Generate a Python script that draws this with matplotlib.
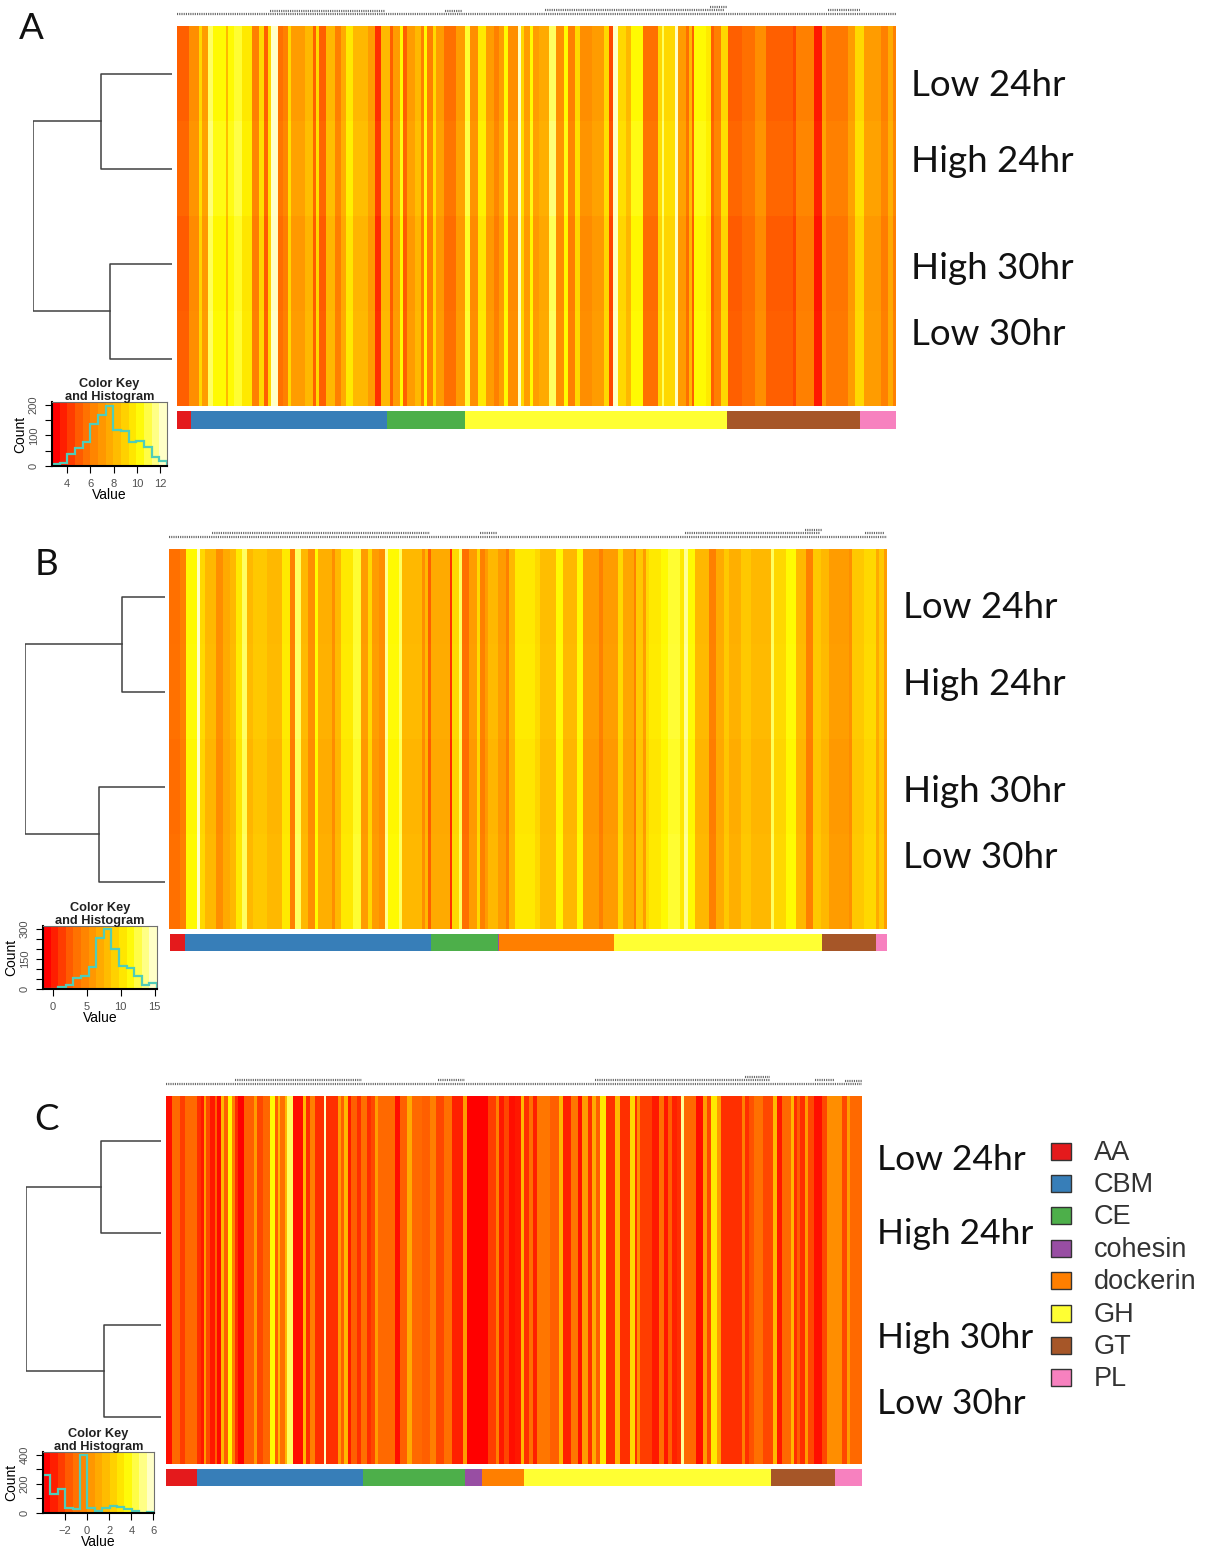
import numpy as np
import matplotlib
matplotlib.use('Agg')
import matplotlib.pyplot as plt
from matplotlib.colors import LinearSegmentedColormap
from matplotlib.patches import Rectangle

W, H = 1206, 1549

heat_a = [(2,12),(3.5,10),(6,3),(4,6),(8,5),(7,12),(5,2),(7,6),(7.5,8),(6.5,10),(3,7),(6,5),(2,4),(6,3),(9,7),
          (2.5,5),(3,5),(6,3),(4,13),(5,8),(2,3),(6,3),(2,7),(5,9),(3,6),(4.5,5),(6.5,7),(5,15),(4,7),(1,5),
          (5,9),(2,3),(4,7),(7,3),(2,4),(4,8),(5,6),(3,3),(7,3),(3,6),(6,3),(4,8),(2.5,12),(4,8),(7.5,5),
          (3.5,8),(6.5,8),(4,8),(3,5),(4,5),(7,4),(3.5,10),(9,3),(6,3),(4,6),(7,3),(4,5),
          (4.5,10),(8,7),(3.5,8),(7,4),(3,7),(6,5),(3.5,12),(4,12),(6,5),(1.5,4),(9,4),(6,8),(5,5),(7,12),
          (2.5,15),(6,4),(8,2),(6,11),(9,3),(4,8),(2.5,3),(5,3),(2,2),(7,11),(6.5,5),(2,3),(3,7),(6,7),
          (2,14),(2.5,13),(3.5,11),(2,13),(2,13),(1.5,3),(3,18),(0.5,8),(4,4),(2.8,22),(4,7),(6,8),(4,17),
          (3,7),(4.5,5),(3,3)]
heat_b = [(2.5,11),(3,6),(7,11),(9,3),(6,5),(5,11),(3.5,7),(4.5,7),(5,6),(6.5,6),(8,5),(5,6),(5.5,14),(5,15),
          (6.5,8),(3,5),(8,6),(5,7),(3.5,7),(7,3),(4.7,14),(3.5,3),(5,6),(6.5,12),(7.5,8),(4,7),(6,4),(4,7),
          (3.5,6),(8.5,3),(7,11),(8,3),(5,20),(3.5,3),(5,3),(2,3),(4.5,19),(1,2),(6,7),(8,3),(2.5,7),(4,8),
          (6,3),(3,5),(4,3),(5,10),(4,8),(3,3),(5,6),(6.5,21),
          (6,5),(5.2,16),(7,7),(5,14),(7,6),(4,16),(3,4),(4,15),(6,5),(4.3,11),(3,2),(5.5,7),(4,3),(6,3),
          (6.5,12),(7,7),(7.5,12),(6.5,4),(8.5,4),(7,7),(5,14),(3,7),(4.5,8),(5.5,5),(4.7,12),(5.5,10),(5,20),
          (8,3),(6,12),(7,10),(5,10),(3,7),(5.5,8),(5,8),(4,20),(3.5,3),(5.5,12),(6,12),(4.5,3),(5.5,5),(4,3)]
heat_c = [(0.3,6),(2.3,8),(1.3,5),(2.3,12),(1,4),(0.5,3),(4,2),(1.5,4),(0.5,5),(2,2),(0.2,4),(5,3),(2,4),(7,4),
          (3,3),(1,3),(0,6),(2,9),(4,3),(1.5,6),(2.2,7),(7,5),(2,3),(5,2),(2.5,5),(5,2),(8,6),(0.3,10),(5,3),
          (1,4),(3,5),(1,9),(9,2),(1,12),(4,3),(2,3),(5,4),(0.5,3),(2,6),(1,4),(2.5,6),(1,4),(1.5,4),(4,3),
          (2.3,17),(0.3,5),(2,7),(4.5,5),(2.3,10),(2,7),(3,6),(1.5,8),(2.5,8),(0.7,11),(4,4),(0,21),(1.3,8),
          (3,3),(0.5,5),(1.5,5),(0.3,6),
          (0.5,6),(5,3),(1,5),(2.5,4),(0.7,4),(2.7,13),(2,9),(5,4),(0.7,8),(2.7,7),(0.3,4),(4,6),(1,4),(4.5,4),
          (2,4),(6.5,5),(1,9),(5,5),(1,10),(6,5),(1,2),(3.5,3),(1.3,12),(0.5,7),(2.5,5),(0.5,4),(2,4),(0.7,5),
          (1,4),(8.5,3),(2.3,12),(0.3,7),(4,4),(1.5,4),(6.5,6),(4,4),(1,21),(3,3),(1,4),(1.7,5),(2.5,9),(1.5,10),
          (5,3),(0.5,5),(2.3,9),(5,3),(1,3),(2,3),(1,5),(4,3),(1.5,6),(0.3,8),(1.5,5),(3.5,15),(1.5,5),(4,3),(2.3,12)]

# small shift of each row against the column shade
shift_a = [0, 0.2, -0.1, 0]
shift_b = [0, 0.05, -0.1, 0]
shift_c = [0, 0, 0, 0]

samples_a = ['Low 24hr', 'High 24hr', 'High 30hr', 'Low 30hr']

categories = ['AA', 'CBM', 'CE', 'cohesin', 'dockerin', 'GH', 'GT', 'PL']
cat_colors = ['#E41A1C', '#377EB8', '#4DAF4A', '#984EA3', '#FF7F00', '#FFFF33', '#A65628', '#F781BF']
counts_a = [14, 196, 78, 0, 0, 262, 133, 36]
counts_b = [15, 246, 67, 1, 115, 208, 54, 11]
counts_c = [31, 166, 102, 17, 42, 247, 64, 27]

# merge heights of the dendrograms, root = 1
dend_a = [0.51, 0.446]
dend_b = [0.307, 0.471]
dend_c = [0.444, 0.422]

hist_a = [5, 10, 40, 60, 80, 137, 165, 195, 118, 115, 78, 82, 62, 30, 15]
hist_b = [2, 2, 8, 18, 55, 65, 110, 255, 300, 200, 115, 105, 65, 20, 30]
hist_c = [260, 130, 165, 35, 25, 400, 35, 15, 35, 45, 38, 28, 15, 2, 10]

range_a = (2.7, 12.6)
range_b = (-1.4, 15.35)
range_c = (-4.0, 6.05)

xticks_a = [4, 6, 8, 10, 12]
xticks_b = [0, 5, 10, 15]
xticks_c = [-2, 0, 2, 4, 6]
yticks_a = [0, 100, 200]
yticks_b = [0, 150, 300]
yticks_c = [0, 200, 400]

# heat.colors look
shades = [(0, '#FF0000'), (1, '#FF3000'), (2, '#FF6000'), (3, '#FF8000'), (4, '#FF9C00'),
          (5, '#FFB800'), (6, '#FFD800'), (7, '#FFFA00'), (8, '#FFFF60'), (9, '#FFFFC8')]
heat_cmap = LinearSegmentedColormap.from_list('heat', [(s / 9, c) for s, c in shades])

fig = plt.figure(figsize=(W / 100, H / 100), dpi=100)


def px_axes(x0, y0, x1, y1):
    # axes placed by pixel box, y counted from the top of the picture
    return fig.add_axes([x0 / W, 1 - y1 / H, (x1 - x0) / W, (y1 - y0) / H])


def draw_heat(box, runs, shift):
    ax = px_axes(*box)
    col = np.repeat([r[0] for r in runs], [r[1] for r in runs])
    mat = np.array([col + s for s in shift])
    ax.pcolormesh(mat, cmap=heat_cmap, vmin=0, vmax=9)
    ax.invert_yaxis()
    ax.axis('off')


def draw_cats(box, counts):
    ax = px_axes(*box)
    left = 0
    for n, c in zip(counts, cat_colors):
        ax.barh(0, n, left=left, height=1, color=c, linewidth=0)
        left += n
    ax.set_xlim(0, sum(counts))
    ax.set_ylim(-0.5, 0.5)
    ax.axis('off')


def draw_dendro(box, heights):
    ax = px_axes(*box)
    ax.set_xlim(1, 0)
    ax.set_ylim(4, 0)
    lc = '#404040'
    up, lo = heights
    ax.plot([0, up, up, 0], [0.5, 0.5, 1.5, 1.5], color=lc, lw=1.1)
    ax.plot([0, lo, lo, 0], [2.5, 2.5, 3.5, 3.5], color=lc, lw=1.1)
    ax.plot([up, 1, 1, lo], [1, 1, 3, 3], color=lc, lw=1.1)
    ax.axis('off')


def draw_key(box, vals, vrange, xticks, yticks):
    ax = px_axes(*box)
    lo, hi = vrange
    ymax = yticks[-1] * 1.045
    bands = np.linspace(0, 9, 15).reshape(1, -1)
    ax.imshow(bands, cmap=heat_cmap, vmin=0, vmax=9, aspect='auto', extent=(lo, hi, 0, ymax))
    ax.stairs(vals, np.linspace(lo, hi, len(vals) + 1), color='#50CDB8', lw=1.6)
    ax.set_xlim(lo, hi)
    ax.set_ylim(0, ymax)
    ax.set_xticks(xticks)
    ax.set_yticks(np.arange(0, yticks[-1] + 1, yticks[1] / 2 if yticks[1] != 150 else 50), minor=False)
    ax.set_yticklabels([str(int(t)) if t in yticks else '' for t in ax.get_yticks()],
                       rotation=90, va='center', fontsize=8, color='#505050', family='Liberation Sans')
    ax.set_xticklabels([str(t).replace('-', '\u2212') for t in xticks], fontsize=8, color='#505050',
                       family='Liberation Sans')
    ax.tick_params(length=5, width=0.8, pad=4.5)
    ax.spines['top'].set_color('#707070')
    ax.spines['right'].set_color('#707070')
    ax.spines['left'].set_linewidth(1.5)
    ax.spines['bottom'].set_linewidth(1.5)
    ax.set_xlabel('Value', fontsize=10, labelpad=-1, family='Liberation Sans')
    ax.set_ylabel('Count', fontsize=10, labelpad=1, family='Liberation Sans')
    mid = (box[0] + box[2]) / 2
    over.text(mid, box[1] - 11.5, 'Color Key\nand Histogram', ha='center', va='center', fontsize=9.2,
              fontweight='bold', family='Liberation Sans', color='#202020', linespacing=1.15, zorder=5)


# full-picture layer for the free text, gene label band and legend
over = fig.add_axes([0, 0, 1, 1], zorder=10)
over.set_xlim(0, W)
over.set_ylim(H, 0)
over.axis('off')
over.patch.set_alpha(0)

draw_heat((177, 26, 896, 406), heat_a, shift_a)
draw_heat((169, 549, 887, 929), heat_b, shift_b)
draw_heat((166, 1096, 862, 1464), heat_c, shift_c)

draw_cats((177, 411, 896, 429), counts_a)
draw_cats((170, 934, 887, 951), counts_b)
draw_cats((166, 1469, 862, 1486), counts_c)

draw_dendro((33, 26, 172, 406), dend_a)
draw_dendro((25, 549, 165, 929), dend_b)
draw_dendro((26, 1095, 161, 1463), dend_c)

draw_key((52, 402, 167, 466), hist_a, range_a, xticks_a, yticks_a)
draw_key((43, 926, 157, 989), hist_b, range_b, xticks_b, yticks_b)
draw_key((43, 1452, 154, 1513), hist_c, range_c, xticks_c, yticks_c)

# the gene names are too small to read, they show as a dotted grey band
bands = [(14, 177, 896), (11, 270, 385), (11, 445, 462), (10, 545, 725), (7, 710, 727), (10, 828, 860),
         (537, 169, 887), (533, 212, 430), (533, 480, 497), (533, 685, 820), (530, 805, 822), (533, 865, 885),
         (1084, 166, 862), (1080, 235, 362), (1080, 438, 465), (1080, 595, 770), (1077, 745, 770),
         (1080, 815, 835), (1081, 845, 862)]
for y, x0, x1 in bands:
    over.plot([x0, x1], [y, y], color='#666666', lw=1.6, ls=(0, (0.5, 0.5)))

for y, name in zip([85.5, 161.5, 268.5, 334.5], samples_a):
    over.text(911, y, name, fontsize=26.5, family='Lato', va='center', color='#111111')
for y, name in zip([607.5, 684.5, 791.5, 857.5], samples_a):
    over.text(903, y, name, fontsize=26.5, family='Lato', va='center', color='#111111')
for y, name in zip([1159.5, 1234.5, 1338.5, 1403.5], samples_a):
    over.text(877, y, name, fontsize=25.5, family='Lato', va='center', color='#111111')

for x, y, s in [(31, 28, 'A'), (47, 564, 'B'), (47, 1120, 'C')]:
    over.text(x, y, s, fontsize=26.5, family='Lato', ha='center', va='center', color='#111111')

for i, (name, c) in enumerate(zip(categories, cat_colors)):
    yc = 1151 + i * 32.4
    over.add_patch(Rectangle((1051, yc - 8.5), 20, 17, facecolor=c, edgecolor='#333333', lw=1))
    over.text(1094, yc + 1.5, name, fontsize=19.5, family='Liberation Sans', va='center', color='#333333')

fig.savefig('out.png', dpi=100)
